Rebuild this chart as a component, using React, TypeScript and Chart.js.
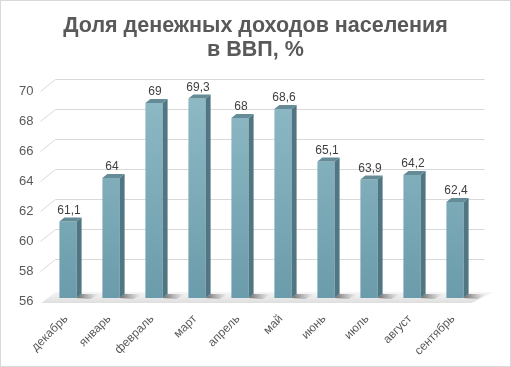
import React, { useEffect, useRef } from "react";
import { Chart, registerables } from "chart.js";

Chart.register(...registerables);

const titleLines = ["Доля денежных доходов населения", "в ВВП, %"];
const categories = ["декабрь", "январь", "февраль", "март", "апрель", "май", "июнь", "июль", "август", "сентябрь"];
const values = [61.1, 64, 69, 69.3, 68, 68.6, 65.1, 63.9, 64.2, 62.4];
const yMin = 56;
const yMax = 70;
const yStep = 2;

const fmt = (v: number) => String(v).replace(".", ",");

const DX = 5;
const DY = 4;
const WX = 13;
const WY = 9;
const FONT = "'Liberation Sans', Arial, sans-serif";

const scenePlugin = {
  id: "scene3d",
  beforeDatasetsDraw(chart: any) {
    const { ctx, chartArea } = chart;
    const ys = chart.scales.y;
    const left = chartArea.left;
    const right = chartArea.right;
    const base = ys.getPixelForValue(yMin);
    ctx.save();
    // title
    ctx.fillStyle = "#595959";
    ctx.font = "bold 21.5px " + FONT;
    ctx.textAlign = "center";
    ctx.textBaseline = "alphabetic";
    ctx.fillText(titleLines[0], chart.width / 2, 31);
    ctx.fillText(titleLines[1], chart.width / 2, 55);
    // floor
    ctx.beginPath();
    ctx.moveTo(left - 5, base + 5);
    ctx.lineTo(right - 5, base + 5);
    ctx.lineTo(right + WX + 4, base - 6);
    ctx.lineTo(left + WX - 4, base - 6);
    ctx.closePath();
    const fg = ctx.createLinearGradient(0, base - 6, 0, base + 5);
    fg.addColorStop(0, "#f6f6f6");
    fg.addColorStop(1, "#dedede");
    ctx.fillStyle = fg;
    ctx.fill();
    // grid lines (back wall)
    ctx.strokeStyle = "#d9d9d9";
    ctx.lineWidth = 1;
    for (let v = yMin + yStep; v <= yMax; v += yStep) {
      const y = Math.round(ys.getPixelForValue(v)) + 0.5;
      ctx.beginPath();
      ctx.moveTo(left - 6, y + 3);
      ctx.lineTo(left + WX - 4, y - WY);
      ctx.lineTo(right + 8, y - WY);
      ctx.stroke();
    }
    // shadows of bars on the floor
    const meta = chart.getDatasetMeta(0);
    meta.data.forEach((bar: any) => {
      const p = bar.getProps(["x", "width"], true);
      const r = p.x + p.width / 2;
      const g = ctx.createLinearGradient(r, 0, r + 22, 0);
      g.addColorStop(0, "rgba(60,60,60,0.75)");
      g.addColorStop(1, "rgba(120,120,120,0)");
      ctx.fillStyle = g;
      ctx.beginPath();
      ctx.moveTo(r, base);
      ctx.lineTo(r + DX, base - DY);
      ctx.lineTo(r + DX + 18, base - DY);
      ctx.lineTo(r + 14, base + 1);
      ctx.closePath();
      ctx.fill();
    });
    ctx.restore();
  },
  afterDatasetsDraw(chart: any) {
    const { ctx } = chart;
    const ys = chart.scales.y;
    const xs = chart.scales.x;
    const base = ys.getPixelForValue(yMin);
    const meta = chart.getDatasetMeta(0);
    ctx.save();
    meta.data.forEach((bar: any, i: number) => {
      const p = bar.getProps(["x", "y", "width"], true);
      const l = p.x - p.width / 2;
      const r = p.x + p.width / 2;
      // side
      ctx.fillStyle = "#4f7682";
      ctx.beginPath();
      ctx.moveTo(r, p.y);
      ctx.lineTo(r + DX, p.y - DY);
      ctx.lineTo(r + DX, base - DY);
      ctx.lineTo(r, base);
      ctx.closePath();
      ctx.fill();
      // top
      ctx.fillStyle = "#658b96";
      ctx.beginPath();
      ctx.moveTo(l, p.y);
      ctx.lineTo(l + DX, p.y - DY);
      ctx.lineTo(r + DX, p.y - DY);
      ctx.lineTo(r, p.y);
      ctx.closePath();
      ctx.fill();
      // value label
      ctx.fillStyle = "#404040";
      ctx.font = "12px " + FONT;
      ctx.textAlign = "center";
      ctx.textBaseline = "alphabetic";
      ctx.fillText(fmt(values[i]), p.x + 1, p.y - 8);
    });
    // category labels (rotated)
    ctx.fillStyle = "#595959";
    ctx.font = "12px " + FONT;
    ctx.textAlign = "right";
    ctx.textBaseline = "middle";
    categories.forEach((c, i) => {
      const x = xs.getPixelForValue(i);
      ctx.save();
      ctx.translate(x - 2, base + 19);
      ctx.rotate(-Math.PI / 4);
      ctx.fillText(c, 0, 0);
      ctx.restore();
    });
    ctx.restore();
  },
};

export default function App() {
  const ref = useRef<HTMLCanvasElement | null>(null);
  useEffect(() => {
    if (!ref.current) return;
    const chart = new Chart(ref.current, {
      type: "bar",
      data: {
        labels: categories,
        datasets: [
          {
            data: values,
            base: yMin,
            backgroundColor: (c: any) => {
              const ca = c.chart.chartArea;
              if (!ca) return "#7aa9b7";
              const g = c.chart.ctx.createLinearGradient(0, ca.top, 0, ca.bottom);
              g.addColorStop(0, "#8fbac6");
              g.addColorStop(1, "#6b9cab");
              return g;
            },
            borderWidth: 0,
            barPercentage: 0.4,
            categoryPercentage: 1,
          } as any,
        ],
      },
      options: {
        responsive: false,
        animation: false,
        layout: { padding: { left: 0, right: 33.5, top: 87, bottom: 68 } },
        plugins: {
          legend: { display: false },
          tooltip: { enabled: false },
          title: { display: false },
        },
        scales: {
          x: {
            display: false,
          },
          y: {
            min: yMin,
            max: yMax,
            grid: { display: false, drawTicks: false },
            border: { display: false },
            afterFit: (s: any) => {
              s.width = 45.5;
            },
            ticks: {
              stepSize: yStep,
              color: "#595959",
              font: { family: FONT, size: 13 },
              padding: 13,
              labelOffset: 3,
            },
          },
        },
      } as any,
      plugins: [scenePlugin],
    });
    return () => chart.destroy();
  }, []);
  return (
    <div
      style={{
        position: "fixed",
        left: 0,
        top: 0,
        width: 511,
        height: 367,
        boxSizing: "border-box",
        border: "1px solid #d9d9d9",
        background: "#fff",
      }}
    >
      <canvas ref={ref} width={509} height={365} style={{ display: "block" }} />
    </div>
  );
}
